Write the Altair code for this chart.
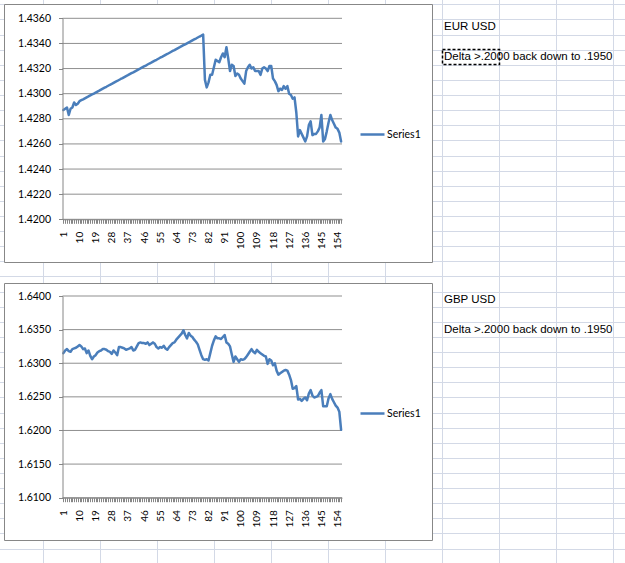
import altair as alt
import pandas as pd

# ---------------- data ----------------
categories = list(range(1, 157))

eur_usd = [
    1.4287, 1.4288, 1.4289, 1.4283, 1.4288, 1.4289, 1.4293, 1.4291, 1.4292, 1.4294,
    1.42948, 1.42955, 1.42963, 1.42971, 1.42978, 1.42986, 1.42994, 1.43001, 1.43009, 1.43017,
    1.43024, 1.43032, 1.43040, 1.43048, 1.43055, 1.43063, 1.43071, 1.43078, 1.43086, 1.43094,
    1.43101, 1.43109, 1.43117, 1.43124, 1.43132, 1.43140, 1.43147, 1.43155, 1.43163, 1.43170,
    1.43178, 1.43186, 1.43194, 1.43201, 1.43209, 1.43217, 1.43224, 1.43232, 1.43240, 1.43247,
    1.43255, 1.43263, 1.43270, 1.43278, 1.43286, 1.43293, 1.43301, 1.43309, 1.43316, 1.43324,
    1.43332, 1.43340, 1.43347, 1.43355, 1.43363, 1.43370, 1.43378, 1.43386, 1.43393, 1.43401,
    1.43409, 1.43416, 1.43424, 1.43432, 1.43439, 1.43447, 1.43455, 1.43462, 1.43470, 1.4311,
    1.4305, 1.4309, 1.4315, 1.4315, 1.4321, 1.4327, 1.4326, 1.4325, 1.4329, 1.4332,
    1.4329, 1.4337, 1.4328, 1.4318, 1.4323, 1.4322, 1.4314, 1.4316, 1.4315, 1.4312,
    1.4310, 1.4308, 1.4318, 1.4321, 1.4323, 1.4320, 1.4321, 1.4318, 1.4318, 1.4318,
    1.4315, 1.4320, 1.4321, 1.4320, 1.4318, 1.4322, 1.4322, 1.4312, 1.4310, 1.4307,
    1.4302, 1.4304, 1.4303, 1.4306, 1.4304, 1.4306, 1.4300, 1.4299, 1.4296, 1.4297,
    1.4285, 1.4266, 1.4271, 1.4268, 1.4265, 1.4262, 1.4266, 1.4275, 1.4278, 1.4267,
    1.4268, 1.4268, 1.4270, 1.4273, 1.4283, 1.4262, 1.4264, 1.4270, 1.4277, 1.4283,
    1.4279, 1.4276, 1.4273, 1.4272, 1.4269, 1.4262,
]

gbp_usd = [
    1.6315, 1.6319, 1.6321, 1.6318, 1.6317, 1.6321, 1.6322, 1.6323, 1.6325, 1.6327,
    1.6325, 1.6321, 1.6322, 1.6315, 1.6319, 1.6311, 1.6306, 1.6310, 1.6312, 1.6316,
    1.6318, 1.6319, 1.6321, 1.6321, 1.6320, 1.6318, 1.6317, 1.6314, 1.6319, 1.6316,
    1.6312, 1.6324, 1.6324, 1.6323, 1.6322, 1.6320, 1.6321, 1.6322, 1.6324, 1.6319,
    1.6320, 1.6325, 1.6330, 1.6331, 1.6330, 1.6330, 1.6329, 1.6331, 1.6327, 1.6329,
    1.6331, 1.6329, 1.6324, 1.6322, 1.6324, 1.6323, 1.6326, 1.6322, 1.6320, 1.6324,
    1.6327, 1.6330, 1.6331, 1.6335, 1.6338, 1.6341, 1.6344, 1.6349, 1.6342, 1.6337,
    1.6345, 1.6341, 1.6339, 1.6335, 1.6332, 1.6328, 1.6320, 1.6312, 1.6306, 1.6305,
    1.6306, 1.6304, 1.6315, 1.6326, 1.6334, 1.6340, 1.6337, 1.6337, 1.6336, 1.6339,
    1.6342, 1.6331, 1.6329, 1.6325, 1.6313, 1.6302, 1.6310, 1.6306, 1.6302, 1.6306,
    1.6305, 1.6306, 1.6309, 1.6313, 1.6317, 1.6321, 1.6317, 1.6315, 1.6320, 1.6317,
    1.6315, 1.6313, 1.6311, 1.6310, 1.6299, 1.6306, 1.6304, 1.6297, 1.6300, 1.6289,
    1.6283, 1.6285, 1.6287, 1.6289, 1.6290, 1.6289, 1.6283, 1.6275, 1.6262, 1.6263,
    1.6266, 1.6246, 1.6247, 1.6244, 1.6247, 1.6249, 1.6245, 1.6255, 1.6260, 1.6252,
    1.6249, 1.6250, 1.6251, 1.6256, 1.6260, 1.6236, 1.6236, 1.6236, 1.6248, 1.6254,
    1.6247, 1.6242, 1.6237, 1.6234, 1.6228, 1.6201,
]

eur_ticks = [1.4200, 1.4220, 1.4240, 1.4260, 1.4280, 1.4300, 1.4320, 1.4340, 1.4360]
gbp_ticks = [1.6100, 1.6150, 1.6200, 1.6250, 1.6300, 1.6350, 1.6400]
x_label_values = [1, 10, 19, 28, 37, 46, 55, 64, 73, 82, 91, 100, 109, 118, 127, 136, 145, 154]
pair_names = ["EUR USD", "GBP USD"]
note_text = "Delta >.2000 back down to .1950"
series_name = "Series1"

# ---------------- layout / style ----------------
W, H = 625, 563
BLUE = "#4a7ebb"
SHEET_GRID = "#d3d9e6"
CHART_GRID = "#8f8f8f"
AXIS_C = "#868686"
FRAME_C = "#878787"
PX0, PX1 = 62.5, 342.0
AX_FONT = "Lato"


def one_row():
    return alt.Chart(pd.DataFrame({"k": [0]}))


layers = []

# spreadsheet cell grid (background decoration)
col_lines = pd.DataFrame({"px": [round(43.3 + 57 * k) + 0.5 for k in range(11)]})
row_lines = pd.DataFrame({"py": [round(4.3 + 15.12 * k) + 0.5 for k in range(38)]})
layers.append(
    alt.Chart(col_lines).mark_rule(color=SHEET_GRID, strokeWidth=1).encode(
        x=alt.X("px:Q", scale=None, axis=None), y=alt.value(0), y2=alt.value(H)
    )
)
layers.append(
    alt.Chart(row_lines).mark_rule(color=SHEET_GRID, strokeWidth=1).encode(
        y=alt.Y("py:Q", scale=None, axis=None), x=alt.value(0), x2=alt.value(W)
    )
)


def frame(y0, y1):
    return one_row().mark_rect(fill="white", stroke=FRAME_C, strokeWidth=1).encode(
        x=alt.value(4.5), x2=alt.value(432.5), y=alt.value(y0), y2=alt.value(y1)
    )


layers.append(frame(4.5, 262.5))
layers.append(frame(283.5, 540.5))


def cell_text(txt, x, y):
    return alt.Chart(pd.DataFrame({"t": [txt]})).mark_text(
        align="left", baseline="middle", font="Liberation Sans", fontSize=11.5, color="black"
    ).encode(text="t:N", x=alt.value(x), y=alt.value(y))


label_expr = "indexof(" + str(x_label_values) + ", datum.value) >= 0 ? datum.label : ''"


def panel(values, ticks, top_px, bottom_px, legend_y):
    df = pd.DataFrame({"cat": categories, "value": values, "series": series_name})
    xs = alt.Scale(domain=[0.5, len(categories) + 0.5], range=[PX0, PX1], nice=False, zero=False)
    ys = alt.Scale(domain=[ticks[0], ticks[-1]], range=[bottom_px, top_px], nice=False, zero=False)
    grid = alt.Chart(pd.DataFrame({"tick": ticks})).mark_rule(color=CHART_GRID, strokeWidth=1).encode(
        y=alt.Y(
            "tick:Q",
            scale=ys,
            axis=alt.Axis(
                orient="left", offset=-PX0, values=ticks, format=".4f", grid=False,
                domain=True, domainColor=AXIS_C, ticks=True, tickColor=AXIS_C, tickSize=4,
                labelFont=AX_FONT, labelFontSize=10.5, labelColor="black", labelPadding=8,
                title=None, zindex=1,
            ),
        ),
        x=alt.value(PX0),
        x2=alt.value(PX1),
    )
    line = alt.Chart(df).mark_line(strokeWidth=2.5, strokeJoin="round", strokeCap="round").encode(
        x=alt.X(
            "cat:Q",
            scale=xs,
            axis=alt.Axis(
                orient="bottom", offset=bottom_px - H, values=categories, labelExpr=label_expr,
                labelAngle=270, labelOverlap=False, labelBound=False, grid=False,
                domain=True, domainColor=AXIS_C, ticks=True, tickColor=AXIS_C, tickSize=4,
                labelFont=AX_FONT, labelFontSize=10, labelColor="black", labelPadding=8,
                title=None, zindex=1,
            ),
        ),
        y=alt.Y("value:Q", scale=ys, axis=None),
        color=alt.Color(
            "series:N",
            scale=alt.Scale(range=[BLUE]),
            legend=alt.Legend(
                orient="none", legendX=359, legendY=legend_y, title=None,
                symbolType="stroke", symbolSize=576, symbolStrokeWidth=2.5,
                labelFont=AX_FONT, labelFontSize=10.5, labelColor="black",
                labelOffset=1, padding=0,
            ),
        ),
    )
    return [grid, line]


layers += panel(eur_usd, eur_ticks, 18.3, 219.3, 121)
layers += panel(gbp_usd, gbp_ticks, 296.0, 497.7, 400)

layers.append(cell_text(pair_names[0], 444, 26.5))
layers.append(cell_text(note_text, 444, 57))
layers.append(cell_text(pair_names[1], 444, 300))
layers.append(cell_text(note_text, 444, 330))

# dashed "copy" marquee around the note cell of the first block
layers.append(
    one_row().mark_rect(fill=None, stroke="black", strokeWidth=1.5, strokeDash=[3, 2]).encode(
        x=alt.value(442.5), x2=alt.value(499.5), y=alt.value(49.5), y2=alt.value(64.5)
    )
)

chart = (
    alt.layer(*layers)
    .resolve_scale(x="independent", y="independent", color="independent")
    .properties(width=W, height=H, padding=0, background="white",
                autosize=alt.AutoSizeParams(type="none"))
    .configure_view(stroke=None)
)

chart.save("out.html", embed_options={"renderer": "svg", "actions": False})
